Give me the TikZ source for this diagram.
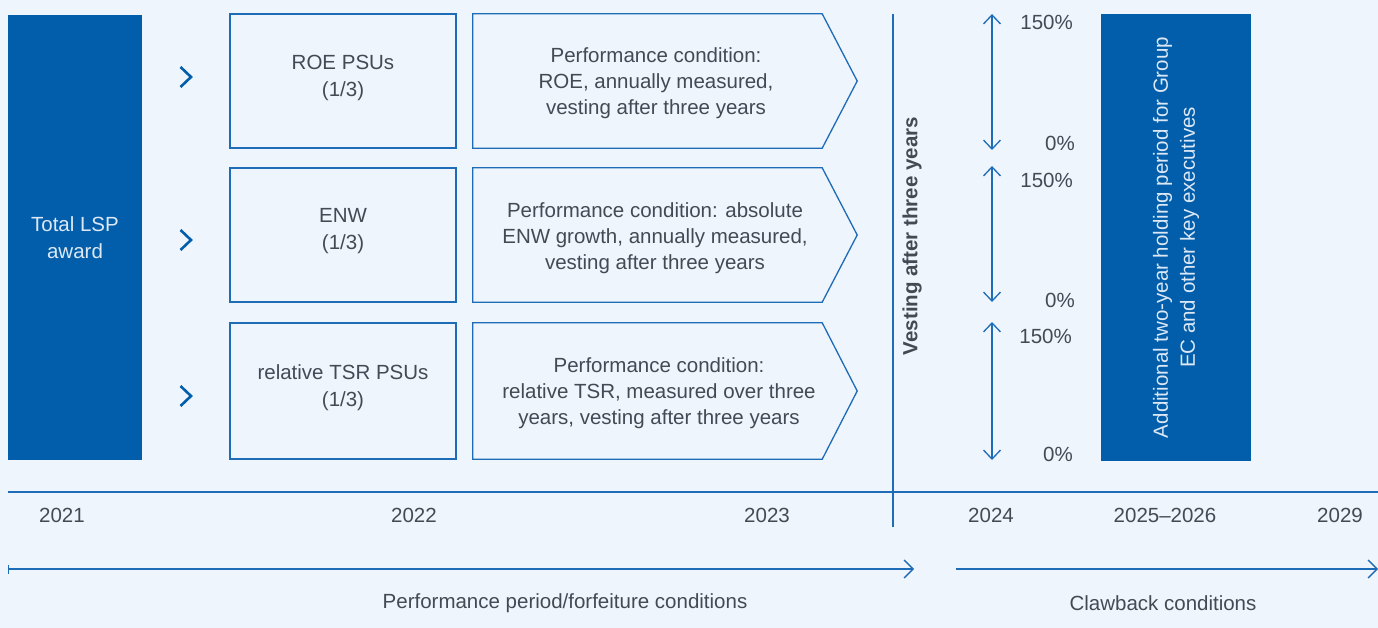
\documentclass[tikz,border=0pt]{standalone}
\usepackage{fontspec}
\setmainfont{Liberation Sans}
\usetikzlibrary{arrows.meta,calc}
\definecolor{bg}{RGB}{238,245,252}
\definecolor{navy}{RGB}{2,94,170}
\definecolor{edge}{RGB}{30,107,184}
\definecolor{ink}{RGB}{66,74,84}
\definecolor{pale}{RGB}{220,232,245}
\begin{document}
\begin{tikzpicture}[x=1pt,y=-1pt,
  every node/.style={inner sep=0pt, text=ink, align=center,
    font=\fontsize{20.5}{27}\selectfont},
  solidbox/.style={fill=navy, draw=none, text=pale},
  awardbox/.style={draw=edge, line width=1.3pt, minimum width=226, minimum height=134},
  condbody/.style={draw=none, minimum width=349, minimum height=134},
  condtext/.style={font=\fontsize{20.5}{26}\selectfont},
  ruleline/.style={draw=edge, line width=1.4pt},
  chevmark/.style={draw=navy, line width=2.6pt, line cap=butt, line join=miter},
  payrange/.style={draw=edge, line width=1.3pt, {Straight Barb[length=9pt,width=17pt,line width=1.3pt]}-{Straight Barb[length=9pt,width=17pt,line width=1.3pt]}},
  periodline/.style={draw=edge, line width=1.3pt},
  pctlbl/.style={anchor=east},
  yearlbl/.style={},
]
% backdrop and frame
\fill[bg] (0,0) rectangle (1378,628);
\useasboundingbox (0,0) rectangle (1378,628);

% total award
\node[solidbox, minimum width=134, minimum height=445] (lsp) at (75,237.5) {Total LSP\\award};

% chevrons leading to the three tranches
\foreach \n/\y in {1/77,2/240,3/396}{
  \coordinate (c\n) at (186,\y);
  \draw[chevmark] ($(c\n)+(-5.5,-10)$) -- ($(c\n)+(5,0)$) -- ($(c\n)+(-5.5,10)$);
}

% tranches (outlined boxes, labels set slightly above centre)
\node[awardbox] (roe) at (343,81) {};
\node[awardbox] (enw) at (343,235) {};
\node[awardbox, minimum height=136] (tsr) at (343,391) {};
\node (roel) at (343,78) {ROE PSUs\\(1/3)};
\node (enwl) at (343,231) {ENW\\(1/3)};
\node (tsrl) at (343,388) {relative TSR PSUs\\(1/3)};

% performance conditions (pentagon outlines)
\node[condbody] (p1) at (647.5,81) {};
\node[condbody] (p2) at (647.5,235) {};
\node[condbody, minimum height=136] (p3) at (647.5,391) {};
\foreach \p in {p1,p2,p3}{
  \draw[draw=edge, line width=1.3pt, line join=miter]
    (\p.north west) -- (\p.north east) -- ($(\p.east)+(35,0)$)
    -- (\p.south east) -- (\p.south west) -- cycle;
}
\node[condtext] (t1) at (656,83) {Performance condition:\\ROE, annually measured,\\vesting after three years};
\node[condtext] (t2) at (655,238) {Performance condition: absolute\\ENW growth, annually measured,\\vesting after three years};
\node[condtext] (t3) at (659,393) {Performance condition:\\relative TSR, measured over three\\years, vesting after three years};

% vesting divider
\coordinate (vtop) at (893,14);
\coordinate (vbot) at (893,527);
\draw[ruleline, line width=1.5pt] (vtop) -- (vbot);
\node[rotate=90, font=\bfseries\fontsize{20.5}{25}\selectfont] (vest) at (912,236) {Vesting after three years};

% payout ranges
\foreach \n/\a/\b in {1/14/150,2/166/302,3/322/460}{
  \coordinate (rt\n) at (992,\a);
  \coordinate (rb\n) at (992,\b);
  \draw[payrange] (rt\n) -- (rb\n);
}
\node[pctlbl] (hi1) at (1073,22) {150\%};
\node[pctlbl] (lo1) at (1075,143) {0\%};
\node[pctlbl] (hi2) at (1073,180) {150\%};
\node[pctlbl] (lo2) at (1075,300) {0\%};
\node[pctlbl] (hi3) at (1072,336) {150\%};
\node[pctlbl] (lo3) at (1073,454) {0\%};

% holding period
\node[solidbox, rotate=90, minimum width=447, minimum height=150] (hold) at (1176,237.5)
  {Additional two-year holding period for Group\\EC and other key executives};

% timeline
\coordinate (tl0) at (8,492);
\coordinate (tl1) at (1378,492);
\draw[ruleline] (tl0) -- (tl1);
\node[yearlbl] (y21) at (62,515) {2021};
\node[yearlbl] (y22) at (414,515) {2022};
\node[yearlbl] (y23) at (767,515) {2023};
\node[yearlbl] (y24) at (991,515) {2024};
\node[yearlbl] (y25) at (1165,515) {2025--2026};
\node[yearlbl] (y29) at (1340,515) {2029};

% condition periods
\coordinate (f0) at (8,569);
\coordinate (f1) at (914,569);
\coordinate (k0) at (956,569);
\coordinate (k1) at (1378,569);
\draw[periodline, {Bar[width=9pt,line width=1.3pt]}-{Straight Barb[length=9pt,width=18pt,line width=1.3pt]}] (f0) -- (f1);
\draw[periodline, -{Straight Barb[length=9pt,width=18pt,line width=1.3pt]}] (k0) -- (k1);
\node (perf) at (565,603) {Performance period/forfeiture conditions};
\node (claw) at (1163,603) {Clawback conditions};
\end{tikzpicture}
\end{document}
